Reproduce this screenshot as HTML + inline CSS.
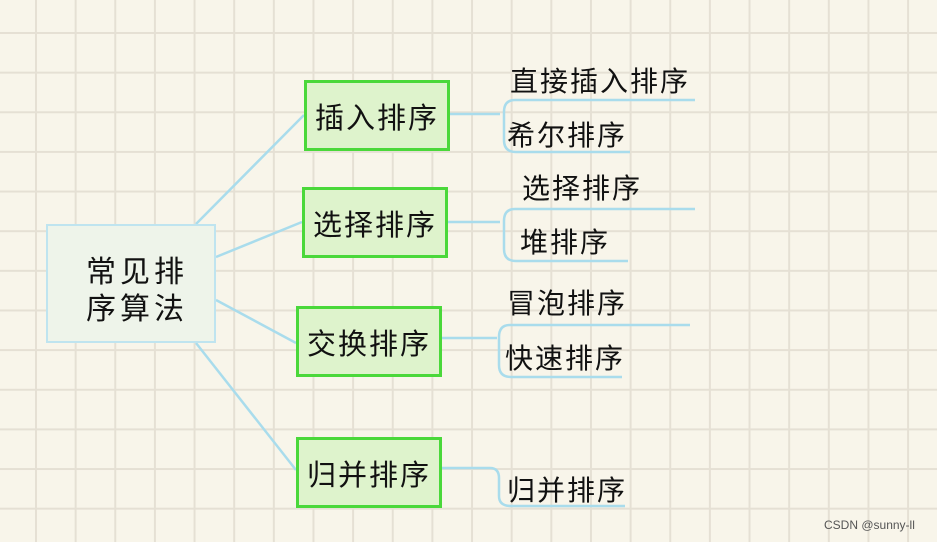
<!DOCTYPE html>
<html><head><meta charset="utf-8"><style>
body{margin:0;width:937px;height:542px;overflow:hidden;background:#f8f5ea;
background-image:linear-gradient(to right,#e5e0d4 0,#e5e0d4 2px,transparent 2px),linear-gradient(to bottom,#e5e0d4 0,#e5e0d4 2px,transparent 2px);
background-size:39.65px 39.65px;background-position:35px 32px;font-family:"Liberation Sans","Noto Sans CJK SC",sans-serif;position:relative}
.b{position:absolute;box-sizing:border-box;border:3px solid #4ad83a;background:#def3cc;display:flex;align-items:center;justify-content:center;font-size:29px;color:#111;letter-spacing:2px}
.t{position:absolute;font-size:28px;color:#111;letter-spacing:2px;white-space:nowrap;line-height:1}
svg{position:absolute;left:0;top:0}
</style></head><body>
<svg width="937" height="542" fill="none" stroke="#a9dcec" stroke-width="2.5">
<line x1="196" y1="224" x2="304" y2="115"/>
<line x1="216" y1="257" x2="302" y2="222"/>
<line x1="216" y1="300" x2="296" y2="343"/>
<line x1="196" y1="343" x2="296" y2="470"/>
<path d="M450 114 H500 M695 100 H515 Q504 100 504 112 V140 Q504 152 516 152 H630"/>
<path d="M447 222 H500 M695 209 H515 Q504 209 504 221 V249 Q504 261 516 261 H628"/>
<path d="M441 338 H497 M690 325 H510 Q499 325 499 337 V365 Q499 377 511 377 H622"/>
<path d="M441 468 H490 Q499 468 499 478 V496 Q499 506 511 506 H625"/>
</svg>
<div style="position:absolute;left:46px;top:224px;width:170px;height:119px;box-sizing:border-box;border:2px solid #bfe4ef;background:#eef4ea"></div>
<div class="t" style="left:86px;top:254px;font-size:30px;line-height:37px;letter-spacing:4px">常见排<br>序算法</div>
<div class="b" style="left:304px;top:80px;width:146px;height:71px">插入排序</div>
<div class="b" style="left:302px;top:187px;width:146px;height:71px">选择排序</div>
<div class="b" style="left:296px;top:306px;width:146px;height:71px">交换排序</div>
<div class="b" style="left:296px;top:437px;width:146px;height:71px">归并排序</div>
<div class="t" style="left:510px;top:68px">直接插入排序</div>
<div class="t" style="left:507px;top:122px">希尔排序</div>
<div class="t" style="left:522px;top:175px">选择排序</div>
<div class="t" style="left:520px;top:229px">堆排序</div>
<div class="t" style="left:507px;top:290px">冒泡排序</div>
<div class="t" style="left:505px;top:345px">快速排序</div>
<div class="t" style="left:507px;top:477px">归并排序</div>
<div style="position:absolute;left:824px;top:518px;font-size:12px;color:#555">CSDN @sunny-ll</div>
</body></html>
